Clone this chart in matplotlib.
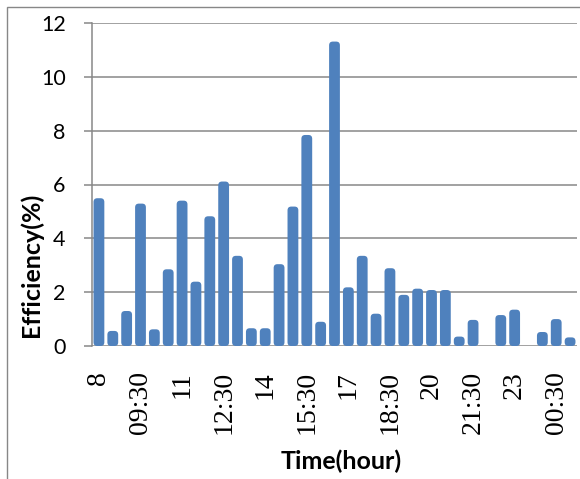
import matplotlib
matplotlib.use("Agg")
import matplotlib.pyplot as plt
from matplotlib.patches import FancyBboxPatch, Rectangle

# Half-hourly slots from 08:00 to 01:00
times = ["8", "08:30", "9", "09:30", "10", "10:30", "11", "11:30", "12", "12:30",
         "13", "13:30", "14", "14:30", "15", "15:30", "16", "16:30", "17", "17:30",
         "18", "18:30", "19", "19:30", "20", "20:30", "21", "21:30", "22", "22:30",
         "23", "23:30", "00", "00:30", "01"]
efficiency = [5.49, 0.56, 1.30, 5.29, 0.62, 2.85, 5.40, 2.39, 4.82, 6.11,
              3.35, 0.66, 0.66, 3.04, 5.18, 7.84, 0.90, 11.31, 2.18, 3.35,
              1.20, 2.89, 1.90, 2.13, 2.08, 2.08, 0.35, 0.97, 0.0, 1.15,
              1.35, 0.0, 0.52, 1.00, 0.32]
# Only every third slot is labelled on the axis
label_step = 3
y_ticks = [0, 2, 4, 6, 8, 10, 12]

BAR_COLOR = "#4F81BD"
GRID_COLOR = "#878787"

W, H = 580, 479
fig = plt.figure(figsize=(W / 100, H / 100), dpi=100)
ax = fig.add_axes([92 / W, 1 - 346 / H, (577 - 92) / W, (346 - 23) / H])

n = len(times)
ax.set_xlim(-0.5, n - 0.5)
ax.set_ylim(0, 12)

# Rounded bars: corner radius in x data units, squeezed vertically to stay circular
bar_w = 0.78
px_per_x = (577 - 92) / n
px_per_y = (346 - 23) / 12
aspect = px_per_x / px_per_y
radius = 0.27
for i, v in enumerate(efficiency):
    if v <= 0:
        continue
    patch = FancyBboxPatch((i - bar_w / 2, 0), bar_w, v,
                           boxstyle=f"round,pad=0,rounding_size={radius}",
                           mutation_aspect=aspect,
                           facecolor=BAR_COLOR, edgecolor="none", zorder=3)
    ax.add_patch(patch)

ax.set_yticks(y_ticks)
ax.set_yticklabels([str(t) for t in y_ticks], fontfamily="Lato", fontsize=15.5)
ax.yaxis.grid(True, color=GRID_COLOR, linewidth=1.1, zorder=1)
ax.set_axisbelow(True)
ax.tick_params(axis="y", length=6, width=1.1, color=GRID_COLOR, pad=13, direction="out")

ax.set_xticks(range(0, n, label_step))
ax.set_xticklabels(times[::label_step], rotation=90, fontfamily="Liberation Serif",
                   fontsize=20, va="top", ha="center")
ax.tick_params(axis="x", length=0, pad=18)

for side in ("top", "right", "bottom"):
    ax.spines[side].set_visible(False)
ax.spines["left"].set_color(GRID_COLOR)
ax.spines["left"].set_linewidth(1.1)

ax.set_xlabel("Time(hour)", fontfamily="Lato", fontweight="bold", fontsize=18, va="center")
ax.xaxis.set_label_coords((341 - 92) / 485, (346 - 461) / 323)
ax.set_ylabel("Efficiency(%)", fontfamily="Lato", fontweight="bold", fontsize=18, va="center")
ax.yaxis.set_label_coords((31 - 92) / 485, (346 - 265) / 323)

# Chart area frame
fig.add_artist(Rectangle((7 / W, -0.05), 1.1, (H - 7) / H + 0.05,
                         transform=fig.transFigure, fill=False,
                         edgecolor=GRID_COLOR, linewidth=1.0, clip_on=False))

fig.savefig("out.png", dpi=100, facecolor="white")
